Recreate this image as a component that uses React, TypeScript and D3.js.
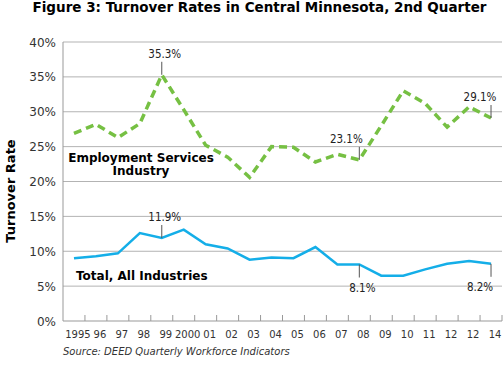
import * as d3 from "d3";

const years = ["1995", "96", "97", "98", "99", "2000", "01", "02", "03", "04", "05", "06", "07", "08", "09", "10", "11", "12", "12", "14"];
const employmentServices = [26.9, 28.2, 26.3, 28.3, 35.3, 30.3, 25.2, 23.5, 20.6, 25.0, 24.9, 22.8, 23.9, 23.1, 28.0, 33.0, 31.2, 27.8, 30.7, 29.1];
const allIndustries = [9.0, 9.3, 9.7, 12.6, 11.9, 13.1, 11.0, 10.4, 8.8, 9.1, 9.0, 10.6, 8.1, 8.1, 6.5, 6.5, 7.4, 8.2, 8.6, 8.2];
const yTicks = [0, 5, 10, 15, 20, 25, 30, 35, 40];

// callouts: series, index, label above (-1) or below (1)
const callouts = [
  { data: employmentServices, i: 4, dir: -1 },
  { data: employmentServices, i: 13, dir: -1 },
  { data: employmentServices, i: 19, dir: -1 },
  { data: allIndustries, i: 4, dir: -1 },
  { data: allIndustries, i: 13, dir: 1 },
  { data: allIndustries, i: 19, dir: 1 },
];

const W = 503;
const H = 367;
const margin = { top: 42, right: 1, bottom: 46, left: 63 };
const font = "'DejaVu Sans', Verdana, sans-serif";

export default function App() {
  const x = d3
    .scaleBand<number>()
    .domain(d3.range(years.length))
    .range([margin.left, W - margin.right]);
  const y = d3.scaleLinear().domain([0, 40]).range([H - margin.bottom, margin.top]);
  const cx = (i: number) => (x(i) ?? 0) + x.bandwidth() / 2;

  const line = d3
    .line<number>()
    .x((_, i) => cx(i))
    .y((d) => y(d));

  const bottom = y(0);

  return (
    <svg width={W} height={H} style={{ position: "absolute", left: 0, top: 0, background: "#fff" }}>
      <text x={259.5} y={12} textAnchor="middle" fontFamily={font} fontWeight="bold" fontSize={13.5} fill="#000">
        Figure 3: Turnover Rates in Central Minnesota, 2nd Quarter
      </text>

      {/* grid */}
      {yTicks.map((t) => (
        <g key={t}>
          {t > 0 && (
            <line x1={margin.left} x2={W - margin.right} y1={y(t)} y2={y(t)} stroke="#b3b3b3" strokeWidth={1} />
          )}
          <text x={56} y={y(t) + 4.5} textAnchor="end" fontFamily={font} fontSize={12} fill="#333">
            {t}%
          </text>
        </g>
      ))}
      <line x1={margin.left} x2={margin.left} y1={margin.top} y2={bottom} stroke="#999" />
      <line x1={margin.left} x2={W - margin.right} y1={bottom} y2={bottom} stroke="#999" />
      {years.map((yr, i) => (
        <g key={i}>
          <line x1={(x(i) ?? 0) + x.bandwidth()} x2={(x(i) ?? 0) + x.bandwidth()} y1={bottom} y2={bottom - 6} stroke="#999" />
          <text x={cx(i) + 4} y={338} textAnchor="middle" fontFamily={font} fontSize={10} fill="#333">
            {yr}
          </text>
        </g>
      ))}

      <text
        transform="translate(15,191) rotate(-90)"
        textAnchor="middle"
        fontFamily={font}
        fontWeight="bold"
        fontSize={13}
        fill="#000"
      >
        Turnover Rate
      </text>

      <path d={line(employmentServices) ?? ""} fill="none" stroke="#76c043" strokeWidth={3.5} strokeDasharray="8 5" />
      <path d={line(allIndustries) ?? ""} fill="none" stroke="#14aee8" strokeWidth={2.5} />

      {callouts.map((c, k) => {
        const px = cx(c.i);
        const py = y(c.data[c.i]);
        const y2 = py + c.dir * 13;
        return (
          <g key={k}>
            <line x1={px} x2={px} y1={py} y2={y2} stroke="#555" />
            <text
              x={px + (c.i === 19 ? -11 : c.i === 13 && c.dir < 0 ? -13 : 3)}
              y={c.dir < 0 ? y2 - 4 : y2 + 14}
              textAnchor="middle"
              fontFamily="'DejaVu Sans Condensed', 'DejaVu Sans', sans-serif"
              fontSize={11.5}
              fill="#222"
            >
              {c.data[c.i].toFixed(1)}%
            </text>
          </g>
        );
      })}

      <text textAnchor="middle" fontFamily={font} fontWeight="bold" fontSize={12} fill="#000">
        <tspan x={141} y={161.5}>Employment Services</tspan>
        <tspan x={141} y={175}>Industry</tspan>
      </text>
      <text x={76} y={280} fontFamily={font} fontWeight="bold" fontSize={12} fill="#000">
        Total, All Industries
      </text>

      <text x={63} y={355} fontFamily={font} fontStyle="italic" fontSize={10} fill="#333">
        Source: DEED Quarterly Workforce Indicators
      </text>
    </svg>
  );
}
